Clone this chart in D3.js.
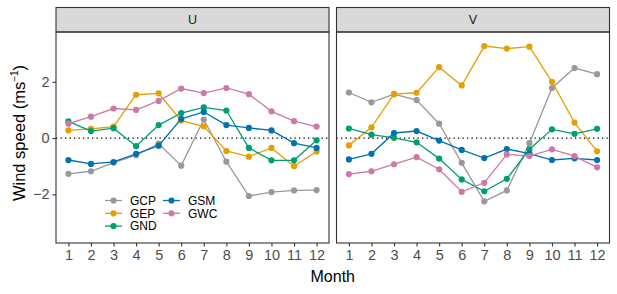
<!DOCTYPE html>
<html>
<head>
<meta charset="utf-8">
<script src="https://cdn.jsdelivr.net/npm/d3@7"></script>
<style>
  body { margin: 0; background: #fff; }
  text { font-family: "Liberation Sans", Arial, sans-serif; }
</style>
</head>
<body>
<script>
// months on x, wind speed on y
var months = [1,2,3,4,5,6,7,8,9,10,11,12];
var panels = ["U", "V"];
var seriesNames = ["GCP", "GEP", "GND", "GSM", "GWC"];
var colors = ["#999999", "#E69F00", "#009E73", "#0072B2", "#CC79A7"];
var yTicks = [-2, 0, 2];

// U component
var uGCP = [-1.27,-1.18,-0.87,-0.61,-0.20,-0.98,0.66,-0.84,-2.06,-1.92,-1.86,-1.85];
var uGEP = [0.27,0.33,0.41,1.54,1.59,0.62,0.42,-0.46,-0.66,-0.35,-1.00,-0.48];
var uGND = [0.59,0.25,0.35,-0.29,0.46,0.89,1.09,0.98,-0.35,-0.79,-0.79,-0.08];
var uGSM = [-0.78,-0.92,-0.85,-0.56,-0.27,0.68,0.93,0.46,0.36,0.27,-0.18,-0.35];
var uGWC = [0.51,0.76,1.05,1.00,1.32,1.76,1.60,1.78,1.56,0.95,0.60,0.41];

// V component
var vGCP = [1.62,1.27,1.56,1.35,0.51,-0.88,-2.25,-1.86,-0.18,1.78,2.49,2.27];
var vGEP = [-0.26,0.38,1.56,1.61,2.52,1.87,3.27,3.18,3.25,2.00,0.55,-0.47];
var vGND = [0.34,0.12,0.01,-0.15,-0.73,-1.47,-1.89,-1.45,-0.40,0.31,0.15,0.33];
var vGSM = [-0.76,-0.56,0.18,0.25,-0.09,-0.42,-0.71,-0.39,-0.55,-0.78,-0.72,-0.78];
var vGWC = [-1.28,-1.18,-0.93,-0.68,-1.11,-1.91,-1.59,-0.58,-0.64,-0.40,-0.64,-1.04];

var panelData = {
    U: [uGCP, uGEP, uGND, uGSM, uGWC],
    V: [vGCP, vGEP, vGND, vGSM, vGWC]
};

var width = 617, height = 294;
var svg = d3.select("body").append("svg")
    .attr("width", width).attr("height", height);

var panelLeft = [56, 336.5];
var panelW = 273;
var stripTop = 7.5, stripH = 24.5;
var plotTop = stripTop + stripH, plotBottom = 243;

var y = d3.scaleLinear().domain([-3.73, 3.77]).range([plotBottom, plotTop]);

panels.forEach(function(p, pi){
    var x0 = panelLeft[pi];
    var x = d3.scaleLinear().domain([0.45, 12.55]).range([x0, x0 + panelW]);
    var g = svg.append("g");

    // strip
    g.append("rect").attr("x", x0).attr("y", stripTop)
        .attr("width", panelW).attr("height", stripH)
        .attr("fill", "#d9d9d9").attr("stroke", "#333").attr("stroke-width", 1.1);
    g.append("text").attr("x", x0 + panelW/2).attr("y", stripTop + stripH/2 + 4.5)
        .attr("text-anchor", "middle").attr("font-size", 12.5).attr("fill", "#1a1a1a")
        .text(p);

    // zero line
    g.append("line").attr("x1", x0).attr("x2", x0 + panelW)
        .attr("y1", y(0)).attr("y2", y(0))
        .attr("stroke", "#000").attr("stroke-width", 1.3)
        .attr("stroke-dasharray", "1.3,3.2");

    // series
    var line = d3.line().x(function(d,i){ return x(months[i]); }).y(function(d){ return y(d); });
    panelData[p].forEach(function(vals, si){
        g.append("path").datum(vals).attr("d", line)
            .attr("fill", "none").attr("stroke", colors[si]).attr("stroke-width", 1.3);
        g.selectAll(null).data(vals).enter().append("circle")
            .attr("cx", function(d,i){ return x(months[i]); })
            .attr("cy", function(d){ return y(d); })
            .attr("r", 3.1).attr("fill", colors[si]);
    });

    // panel border
    g.append("rect").attr("x", x0).attr("y", plotTop)
        .attr("width", panelW).attr("height", plotBottom - plotTop)
        .attr("fill", "none").attr("stroke", "#333").attr("stroke-width", 1.1);

    // x axis
    var xa = g.append("g").attr("transform", "translate(0," + plotBottom + ")")
        .call(d3.axisBottom(x).tickValues(months).tickSize(3.5).tickPadding(3).tickFormat(d3.format("d")));
    xa.select(".domain").remove();
    xa.selectAll("line").attr("stroke", "#333").attr("stroke-width", 1.1);
    xa.selectAll("text").attr("font-size", 14.5).attr("fill", "#4d4d4d")
        .attr("font-family", "Liberation Sans, Arial, sans-serif");

    if (pi === 0) {
        var ya = g.append("g").attr("transform", "translate(" + x0 + ",0)")
            .call(d3.axisLeft(y).tickValues(yTicks).tickSize(3.5).tickPadding(3)
                .tickFormat(function(d){ return d < 0 ? "\u2212" + Math.abs(d) : d; }));
        ya.select(".domain").remove();
        ya.selectAll("line").attr("stroke", "#333").attr("stroke-width", 1.1);
        ya.selectAll("text").attr("font-size", 14.5).attr("fill", "#4d4d4d")
            .attr("font-family", "Liberation Sans, Arial, sans-serif");

        // legend
        var legX = [105, 163], legY0 = 200.5, legDy = 12.8;
        seriesNames.forEach(function(name, si){
            var col = si < 3 ? 0 : 1, row = si < 3 ? si : si - 3;
            var lx = legX[col], ly = legY0 + row * legDy;
            g.append("line").attr("x1", lx).attr("x2", lx + 17).attr("y1", ly).attr("y2", ly)
                .attr("stroke", colors[si]).attr("stroke-width", 1.3);
            g.append("circle").attr("cx", lx + 8.5).attr("cy", ly).attr("r", 3.1).attr("fill", colors[si]);
            g.append("text").attr("x", lx + 25).attr("y", ly + 4.3).attr("font-size", 12)
                .attr("fill", "#000").text(name);
        });
    }
});

// axis titles
svg.append("text").attr("x", (panelLeft[0] + panelLeft[1] + panelW) / 2).attr("y", 281.5)
    .attr("text-anchor", "middle").attr("font-size", 16).text("Month");

var yt = svg.append("text").attr("transform", "translate(24.5,133) rotate(-90)")
    .attr("text-anchor", "middle").attr("font-size", 16.5);
yt.append("tspan").text("Wind speed (ms");
yt.append("tspan").attr("font-size", 10).attr("dy", -7).text("\u22121");
yt.append("tspan").attr("dy", 7).text(")");
</script>
</body>
</html>
